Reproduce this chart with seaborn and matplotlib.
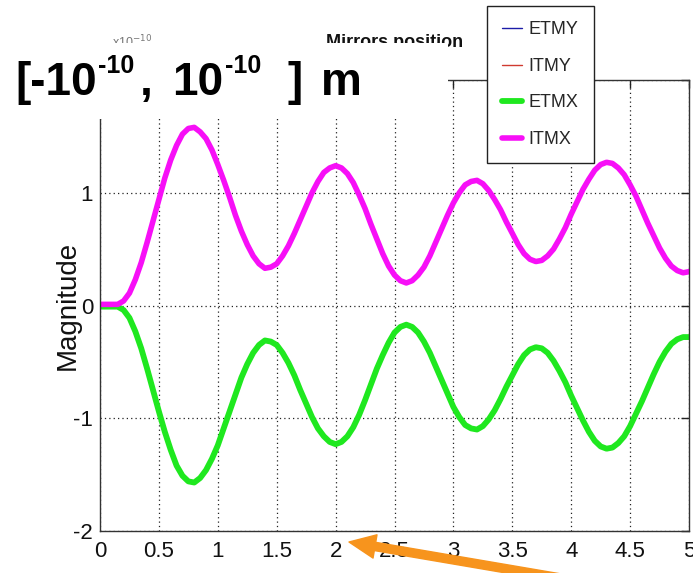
import numpy as np
import pandas as pd
import seaborn as sns
import matplotlib
matplotlib.use("Agg")
import matplotlib.pyplot as plt
from matplotlib.patches import Rectangle, FancyArrowPatch
from matplotlib.lines import Line2D

# ---------------- data ----------------
time_s = np.linspace(0.0, 5.0, 101)  # sample times, 0.05 s apart

itmx = [0.01, 0.01, 0.01, 0.01, 0.04, 0.11, 0.23, 0.38, 0.56, 0.75,
        0.94, 1.13, 1.29, 1.42, 1.52, 1.57, 1.58, 1.54, 1.48, 1.38,
        1.25, 1.11, 0.96, 0.80, 0.66, 0.54, 0.44, 0.37, 0.33, 0.34,
        0.37, 0.44, 0.53, 0.64, 0.76, 0.88, 1.00, 1.10, 1.18, 1.22,
        1.24, 1.22, 1.17, 1.09, 0.98, 0.86, 0.72, 0.59, 0.46, 0.35,
        0.27, 0.22, 0.20, 0.22, 0.27, 0.34, 0.44, 0.56, 0.68, 0.80,
        0.91, 1.00, 1.07, 1.10, 1.11, 1.08, 1.02, 0.94, 0.85, 0.74,
        0.64, 0.54, 0.46, 0.41, 0.39, 0.40, 0.44, 0.50, 0.59, 0.69,
        0.81, 0.92, 1.03, 1.12, 1.20, 1.25, 1.27, 1.26, 1.22, 1.16,
        1.07, 0.97, 0.85, 0.73, 0.62, 0.51, 0.42, 0.35, 0.31, 0.29,
        0.30]

etmx = [-0.01, -0.01, -0.01, -0.01, -0.04, -0.11, -0.23, -0.38, -0.56, -0.75,
        -0.94, -1.12, -1.28, -1.42, -1.51, -1.56, -1.57, -1.53, -1.46, -1.36,
        -1.24, -1.09, -0.94, -0.79, -0.64, -0.52, -0.42, -0.35, -0.31, -0.32,
        -0.35, -0.42, -0.51, -0.62, -0.75, -0.87, -0.99, -1.09, -1.16, -1.21,
        -1.23, -1.21, -1.16, -1.08, -0.97, -0.84, -0.70, -0.56, -0.44, -0.33,
        -0.24, -0.19, -0.17, -0.19, -0.24, -0.32, -0.42, -0.54, -0.66, -0.78,
        -0.90, -0.99, -1.06, -1.09, -1.10, -1.07, -1.01, -0.93, -0.83, -0.72,
        -0.62, -0.52, -0.44, -0.39, -0.37, -0.38, -0.42, -0.49, -0.58, -0.68,
        -0.80, -0.91, -1.02, -1.12, -1.20, -1.25, -1.27, -1.26, -1.22, -1.16,
        -1.07, -0.96, -0.85, -0.73, -0.61, -0.50, -0.41, -0.34, -0.30, -0.28,
        -0.28]

# the Y-arm mirrors lie underneath the X-arm curves
etmy = list(etmx)
itmy = list(itmx)

series_names = ["ETMY", "ITMY", "ETMX", "ITMX"]
series_values = [etmy, itmy, etmx, itmx]
series_colors = ["#1c1ca8", "#d03a30", "#1fe81f", "#f70ff7"]
series_widths = [1.0, 1.0, 4.2, 4.0]

x_ticks = [0, 0.5, 1, 1.5, 2, 2.5, 3, 3.5, 4, 4.5, 5]
x_ticklabels = ["0", "0.5", "1", "1.5", "2", "2.5", "3", "3.5", "4", "4.5", "5"]
y_ticks = [-2, -1, 0, 1, 2]
y_ticklabels = ["-2", "-1", "0", "1", ""]   # the "2" is hidden in the picture

# ---------------- styling ----------------
sns.set_theme(style="white")
FONT = ["Liberation Sans Narrow", "Liberation Sans", "DejaVu Sans"]
plt.rcParams["font.family"] = FONT

W, H = 693, 573
fig = plt.figure(figsize=(W / 100, H / 100), dpi=100)
fig.patch.set_facecolor("white")

def fx(px):
    return px / W

def fy(py):
    return 1 - py / H

ax = fig.add_axes([fx(100), fy(531), fx(689) - fx(100), fy(80) - fy(531)])
ax.set_facecolor("white")

df = pd.DataFrame({"t": np.tile(time_s, 4),
                   "value": np.concatenate([np.asarray(v, float) for v in series_values]),
                   "mirror": np.repeat(series_names, len(time_s))})

for name, col, lw in zip(series_names, series_colors, series_widths):
    sub = df[df["mirror"] == name]
    sns.lineplot(data=sub, x="t", y="value", ax=ax, color=col, linewidth=lw,
                 legend=False, sort=False, estimator=None)

ax.set_xlim(0, 5)
ax.set_ylim(-2, 2)
ax.set_xticks(x_ticks)
ax.set_xticklabels(x_ticklabels)
ax.set_yticks(y_ticks)
ax.set_yticklabels(y_ticklabels)
ax.set_xlabel("")
ax.set_ylabel("Magnitude", fontsize=20, color="#111111")
ax.yaxis.set_label_coords((81 - 100) / 589, 0.5)

ax.grid(True, linestyle=(0, (1, 2.5)), color="#222222", linewidth=0.9)
ax.tick_params(axis="both", direction="in", length=6, width=1, colors="#222222",
               top=True, right=True, labelsize=16, labelcolor="#111111")
ax.tick_params(axis="x", pad=7)
ax.tick_params(axis="y", pad=5)
for sp in ax.spines.values():
    sp.set_visible(True)
    sp.set_color("#333333")
    sp.set_linewidth(1.0)

ax.set_title("Mirrors position", fontsize=13, fontweight="bold", pad=23.8,
             color="#111111")

# exponent label (mostly hidden below the overlay)
fig.text(fx(112), fy(47), "x10$^{-10}$", fontsize=9, color="#777777",
         ha="left", va="baseline", zorder=1)

# legend
handles = [Line2D([0], [0], color=c, linewidth=lw) for c, lw in zip(series_colors, series_widths)]
leg = fig.legend(handles, series_names, loc="upper left",
                 bbox_to_anchor=(fx(487), fy(6)), borderaxespad=0,
                 fontsize=13, frameon=True, fancybox=False, framealpha=1,
                 edgecolor="#222222", facecolor="white",
                 handlelength=1.1, handletextpad=0.35, labelspacing=1.08,
                 borderpad=0.85)
leg.get_frame().set_linewidth(1.0)
leg.set_zorder(8)

# white overlay over the upper-left of the figure
fig.add_artist(Rectangle((0, fy(119)), fx(448), fy(43) - fy(119),
                         transform=fig.transFigure, facecolor="white",
                         edgecolor="none", zorder=5))

# big annotation text "[-10^-10 , 10^-10 ] m"
BIGF = ["Liberation Sans", "DejaVu Sans"]
pieces = [("[-10", 15, 33, 0), ("-10", 98, 18, 22), (",", 140, 33, 0),
          ("10", 172, 33, 0), ("-10", 225, 18, 22),
          ("]", 288, 33, 0), ("m", 321, 33, 0)]
for s, xpx, size, rise in pieces:
    fig.text(fx(xpx), fy(95 - rise), s, fontsize=size, fontweight="bold",
             family=BIGF, color="black", ha="left", va="baseline", zorder=7)

# orange arrow
arrow = FancyArrowPatch((fx(560), fy(578)), (fx(349), fy(542)),
                        transform=fig.transFigure,
                        arrowstyle="simple,head_length=1.9,head_width=1.7,tail_width=0.6",
                        mutation_scale=10, color="#f7941d", zorder=9, clip_on=False,
                        shrinkA=0, shrinkB=0)
fig.add_artist(arrow)

fig.savefig("out.png", dpi=100, facecolor="white")
